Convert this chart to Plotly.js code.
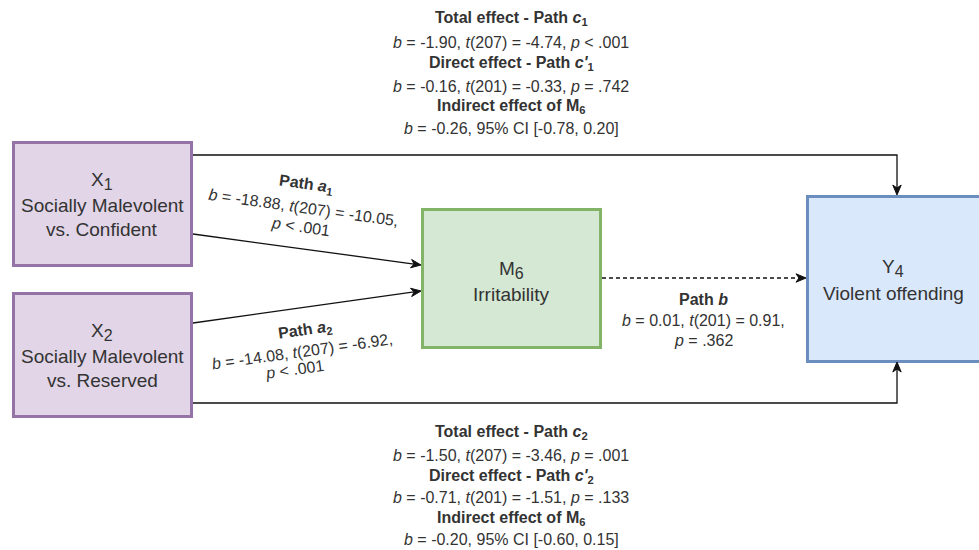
<!DOCTYPE html>
<html>
<head>
<meta charset="utf-8">
<script src="https://cdn.plot.ly/plotly-3.0.1.min.js"></script>
<style>html,body{margin:0;padding:0;background:#fff;}#chart{width:979px;height:550px;}</style>
</head>
<body>
<div id="chart"></div>
<script>
// ---- Text content (data) ----
const nodeNames = ['X<sub><span style="font-size:16px">1</span></sub>', 'X<sub><span style="font-size:16px">2</span></sub>',
                   'M<sub><span style="font-size:16px">6</span></sub>', 'Y<sub><span style="font-size:16px">4</span></sub>'];
const nodeDescX1 = ['Socially Malevolent', 'vs. Confident'];
const nodeDescX2 = ['Socially Malevolent', 'vs. Reserved'];
const nodeDescM6 = ['Irritability'];
const nodeDescY4 = ['Violent offending'];

const topEffectLines = [
  '<b>Total effect - Path <i>c</i><sub>1</sub></b>',
  '<i>b</i> = -1.90, <i>t</i>(207) = -4.74, <i>p</i> < .001',
  "<b>Direct effect - Path <i>c'</i><sub>1</sub></b>",
  '<i>b</i> = -0.16, <i>t</i>(201) = -0.33, <i>p</i> = .742',
  '<b>Indirect effect of M<sub>6</sub></b>',
  '<i>b</i> = -0.26, 95% CI [-0.78, 0.20]'
];
const bottomEffectLines = [
  '<b>Total effect - Path <i>c</i><sub>2</sub></b>',
  '<i>b</i> = -1.50, <i>t</i>(207) = -3.46, <i>p</i> = .001',
  "<b>Direct effect - Path <i>c'</i><sub>2</sub></b>",
  '<i>b</i> = -0.71, <i>t</i>(201) = -1.51, <i>p</i> = .133',
  '<b>Indirect effect of M<sub>6</sub></b>',
  '<i>b</i> = -0.20, 95% CI [-0.60, 0.15]'
];
const pathA1Lines = ['<b>Path <i>a</i><sub>1</sub></b>', '<i>b</i> = -18.88, <i>t</i>(207) = -10.05,', '<i>p</i> < .001'];
const pathA2Lines = ['<b>Path <i>a</i><sub>2</sub></b>', '<i>b</i> = -14.08, <i>t</i>(207) = -6.92,', '<i>p</i> < .001'];
const pathBLines = ['<b>Path <i>b</i></b>', '<i>b</i> = 0.01, <i>t</i>(201) = 0.91,', '<i>p</i> = .362'];

// ---- Layout geometry (pixel-like coordinate system) ----
const FONT = 'Liberation Sans, Arial, Helvetica, sans-serif';
const TXT = '#333333';
const boxes = [
  {x0: 13.5, x1: 191.5, y0: 142.5, y1: 265.5, fill: '#e1d5e7', line: '#9673a6'},
  {x0: 13.5, x1: 191.5, y0: 293.5, y1: 416.5, fill: '#e1d5e7', line: '#9673a6'},
  {x0: 422.5, x1: 600.5, y0: 209.5, y1: 347.5, fill: '#d5e8d4', line: '#82b366'},
  {x0: 807.5, x1: 1000, y0: 196.5, y1: 361.5, fill: '#dae8fc', line: '#6c8ebf'}
];

const shapes = boxes.map(b => ({
  type: 'rect', xref: 'x', yref: 'y', x0: b.x0, x1: b.x1, y0: b.y0, y1: b.y1,
  fillcolor: b.fill, line: {color: b.line, width: 3}, layer: 'below'
}));

const EDGE = '#111111';
function edge(pts, dashed) {
  // polyline from pts, arrowhead at last point
  let d = 'M' + pts.map(p => p[0] + ',' + p[1]).join(' L');
  const n = pts.length;
  const [tx, ty] = pts[n - 1];
  const [px, py] = pts[n - 2];
  const len = Math.hypot(tx - px, ty - py);
  const ux = (tx - px) / len, uy = (ty - py) / len;
  const L = 10, W = 4.2, N = 3;
  // shorten the line so it ends at the notch
  const ex = tx - (L - N) * ux, ey = ty - (L - N) * uy;
  d = 'M' + pts.slice(0, n - 1).map(p => p[0] + ',' + p[1]).join(' L') + ' L' + ex + ',' + ey;
  shapes.push({type: 'path', xref: 'x', yref: 'y', path: d,
    line: {color: EDGE, width: 1.3, dash: dashed ? '4px,3px' : 'solid'}});
  const bx = tx - L * ux, by = ty - L * uy;
  const head = 'M' + tx + ',' + ty +
    ' L' + (bx - W * uy) + ',' + (by + W * ux) +
    ' L' + ex + ',' + ey +
    ' L' + (bx + W * uy) + ',' + (by - W * ux) + ' Z';
  shapes.push({type: 'path', xref: 'x', yref: 'y', path: head, fillcolor: EDGE, line: {color: EDGE, width: 1}});
}
edge([[193, 234], [421, 265]]);
edge([[193, 323], [421, 291]]);
edge([[602, 278], [806, 278]], true);
edge([[193, 155], [897, 155], [897, 195]]);
edge([[193, 403], [897, 403], [897, 362]]);

const annotations = [];
function label(text, x, y, size, angle) {
  annotations.push({x: x, y: y, xref: 'x', yref: 'y', text: text, showarrow: false,
    xanchor: 'center', yanchor: 'middle', textangle: angle || 0,
    font: {family: FONT, size: size, color: TXT}});
}
// node labels
const boxFont = 19;
label(nodeNames[0], 102, 181, boxFont); label(nodeDescX1[0], 102, 205, boxFont); label(nodeDescX1[1], 102, 229, boxFont);
label(nodeNames[1], 102, 332, boxFont); label(nodeDescX2[0], 102, 356, boxFont); label(nodeDescX2[1], 102, 380, boxFont);
label(nodeNames[2], 511, 270, boxFont); label(nodeDescM6[0], 511, 294, boxFont);
label(nodeNames[3], 893, 268, boxFont); label(nodeDescY4[0], 893, 293, boxFont);

// effects blocks
const topY = [18, 42, 63, 86, 106, 128];
topEffectLines.forEach((t, i) => label(t, 511, topY[i], 16));
const botY = [432, 455, 476, 497, 518, 539];
bottomEffectLines.forEach((t, i) => label(t, 511, botY[i], 16));

// path labels
const a1Pos = [[306, 184], [303, 207], [300, 226]];
pathA1Lines.forEach((t, i) => label(t, a1Pos[i][0], a1Pos[i][1], 16, 8));
const a2Pos = [[305, 330], [302, 351], [294, 369]];
pathA2Lines.forEach((t, i) => label(t, a2Pos[i][0], a2Pos[i][1], 16, -8));
const bPos = [[703, 299], [703, 320], [703, 340]];
pathBLines.forEach((t, i) => label(t, bPos[i][0], bPos[i][1], 16));

const layout = {
  width: 979, height: 550,
  margin: {l: 0, r: 0, t: 0, b: 0, pad: 0},
  paper_bgcolor: '#ffffff', plot_bgcolor: '#ffffff',
  xaxis: {range: [0, 979], visible: false, fixedrange: true},
  yaxis: {range: [550, 0], visible: false, fixedrange: true},
  showlegend: false,
  shapes: shapes,
  annotations: annotations
};
Plotly.newPlot('chart', [], layout, {staticPlot: true, displayModeBar: false});
</script>
</body>
</html>
